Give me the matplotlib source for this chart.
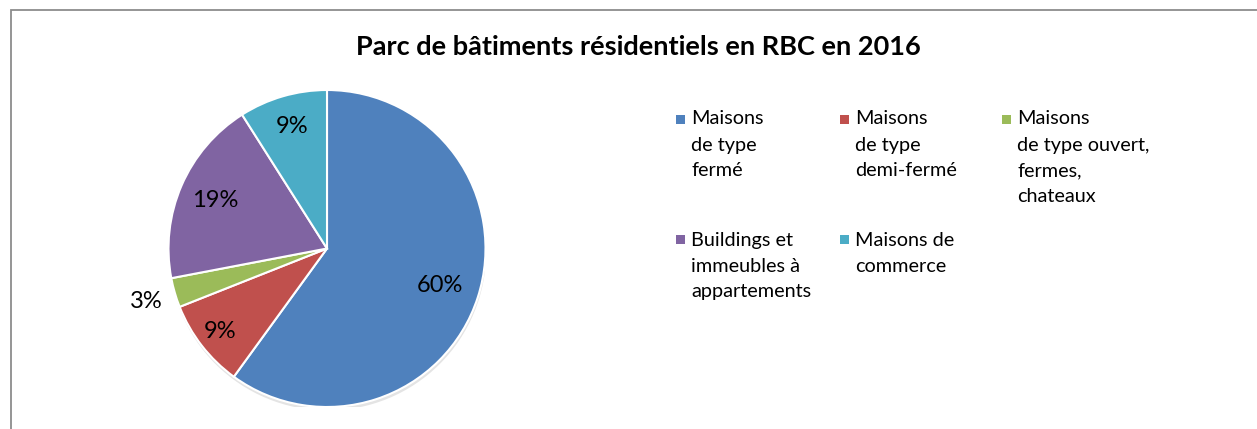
import matplotlib.pyplot as plt
import numpy as np
from matplotlib.patches import Rectangle, Circle

plt.rcParams['font.family'] = ['Lato', 'DejaVu Sans']

title = "Parc de bâtiments résidentiels en RBC en 2016"
categories = [
    "Maisons\nde type\nfermé",
    "Maisons\nde type\ndemi-fermé",
    "Maisons\nde type ouvert,\nfermes,\nchateaux",
    "Buildings et\nimmeubles à\nappartements",
    "Maisons de\ncommerce",
]
shares = [60, 9, 3, 19, 9]
colors = ["#4F81BD", "#C0504D", "#9BBB59", "#8064A2", "#4BACC6"]
label_dist = [0.75, 0.85, 1.19, 0.77, 0.80]

W, H = 1257, 429
fig = plt.figure(figsize=(W / 100, H / 100), dpi=100)


def fx(x):
    return x / W


def fy(y):
    return 1 - y / H


# chart frame (right and bottom edges fall outside the image)
fig.add_artist(Rectangle((fx(11), fy(600)), 2, fy(10) - fy(600),
                         transform=fig.transFigure, fill=False,
                         edgecolor="#8c8c8c", linewidth=1.3))

fig.text(fx(638), fy(47), title, ha="center", va="center",
         fontsize=19.5, fontweight="bold", color="black")

# pie
cx, cy, r = 327, 248.5, 158.5
ax = fig.add_axes([fx(cx - r), fy(cy + r), 2 * r / W, 2 * r / H])

ax.add_patch(Circle((0.004, -0.022), 1.0, color="#c4c4c4", alpha=0.45,
                    linewidth=0, zorder=0))
wedges, _ = ax.pie(shares, colors=colors, startangle=90, counterclock=False,
                   radius=1.0, center=(0, 0), frame=True,
                   wedgeprops=dict(edgecolor="white", linewidth=1.5))
ax.set_xlim(-1, 1)
ax.set_ylim(-1, 1)
ax.axis("off")

for w, val, d in zip(wedges, shares, label_dist):
    ang = np.deg2rad((w.theta1 + w.theta2) / 2)
    ax.text(d * np.cos(ang), d * np.sin(ang), f"{val}%", ha="center",
            va="center", fontsize=17, color="black")

# legend
col_x = [676, 840, 1002]
row_y = [119, 240]
line_h = 26
for i, (lab, c) in enumerate(zip(categories, colors)):
    x0 = col_x[i % 3]
    y0 = row_y[i // 3]
    fig.add_artist(Rectangle((fx(x0), fy(y0 + 4.5)), 9 / W, 9 / H,
                             transform=fig.transFigure, color=c, linewidth=0))
    for k, line in enumerate(lab.split("\n")):
        fig.text(fx(x0 + 15), fy(y0 + k * line_h), line, ha="left",
                 va="center", fontsize=14.3, color="black")

fig.savefig("out.png", dpi=100)
